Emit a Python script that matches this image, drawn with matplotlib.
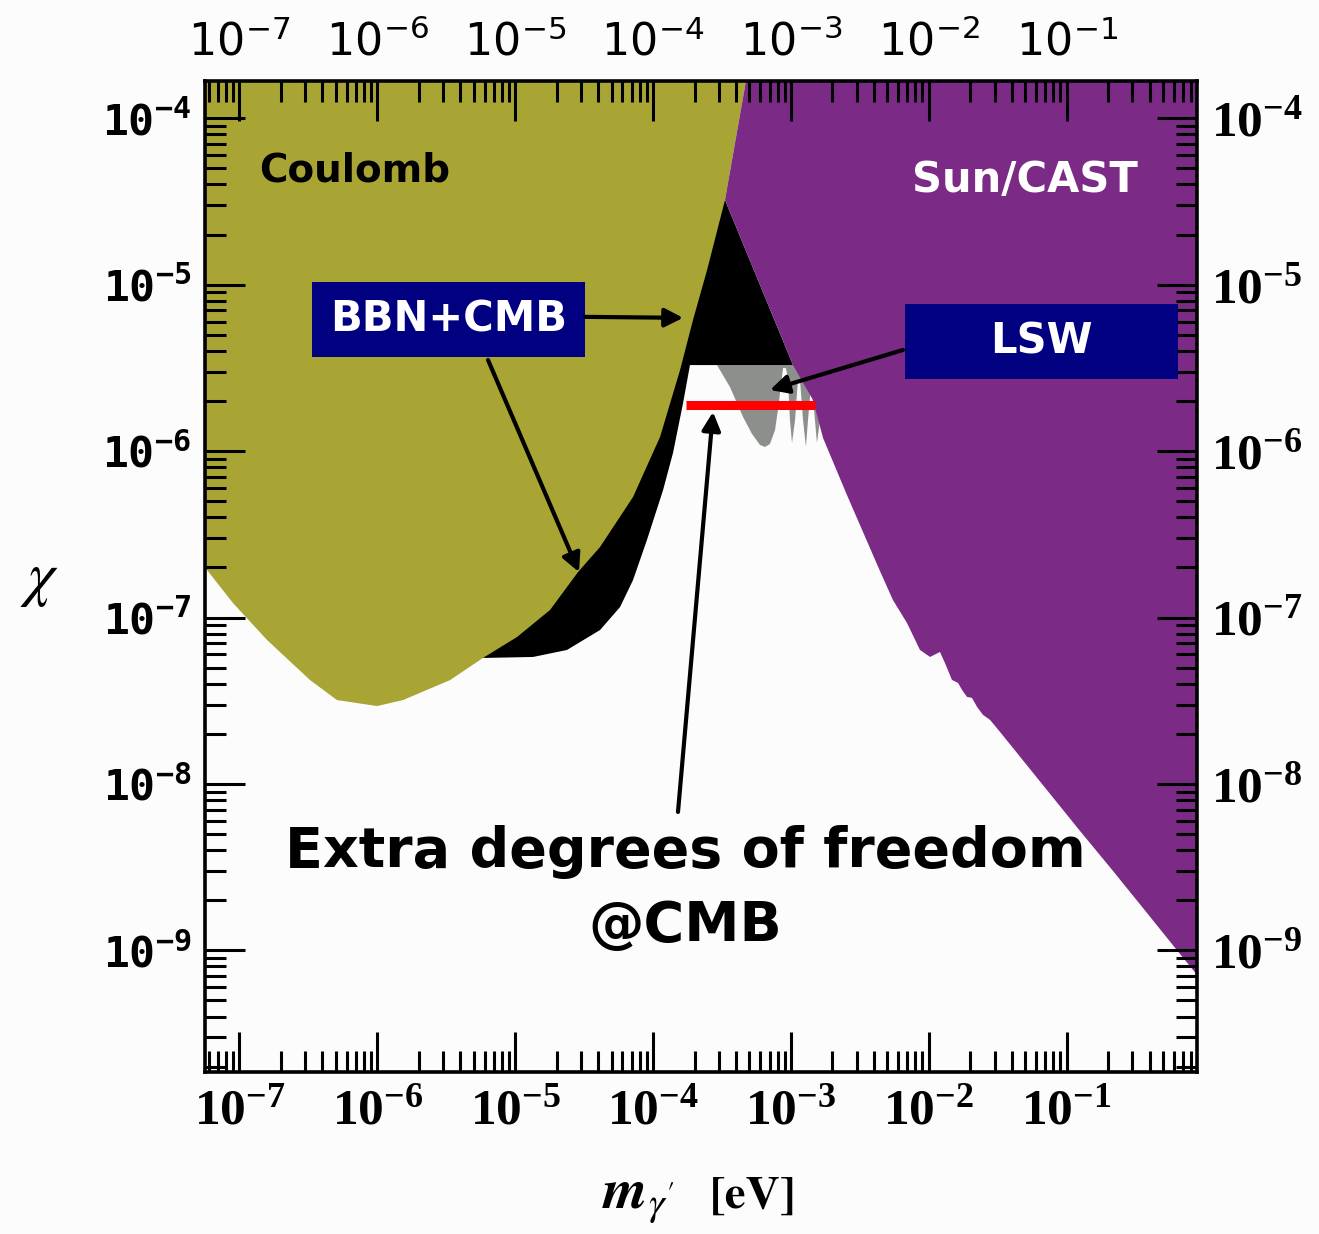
import matplotlib
matplotlib.use("Agg")
import numpy as np
import matplotlib.pyplot as plt
from matplotlib.patches import Rectangle, FancyArrowPatch
from matplotlib.font_manager import FontProperties

plt.rcParams['mathtext.fontset'] = 'stix'

# ---- plot ranges (log10 of dark-photon mass [eV] and of mixing chi) ----
log_m_range = [-7.249, -0.055]
log_chi_range = [-9.731, -3.776]

x_tick_exponents = [-7, -6, -5, -4, -3, -2, -1]
y_tick_exponents = [-9, -8, -7, -6, -5, -4]

# ---- Coulomb-law exclusion boundary ----
coulomb_log_m = [-7.35, -7.234, -7.046, -6.799, -6.487, -6.292, -6.001, -5.813,
                 -5.472, -5.233, -4.986, -4.747, -4.544, -4.384, -4.145, -3.949,
                 -3.804, -3.710, -3.608, -3.478, -3.326, -3.268]
coulomb_log_chi = [-6.59, -6.715, -6.913, -7.135, -7.376, -7.496, -7.532, -7.496,
                   -7.376, -7.243, -7.117, -6.955, -6.727, -6.576, -6.276, -5.915,
                   -5.513, -5.212, -4.912, -4.491, -3.776, -3.50]

# ---- BBN+CMB lower edge, apex and flat bottom of the triangle ----
bbn_log_m = [-5.233, -4.870, -4.624, -4.384, -4.239, -4.145, -4.044, -3.927,
             -3.855, -3.782, -3.732]
bbn_log_chi = [-7.243, -7.237, -7.195, -7.075, -6.937, -6.775, -6.534, -6.234,
               -6.011, -5.711, -5.483]
bbn_apex = (-3.478, -4.491)
bbn_floor_right = (-2.985, -5.483)

# ---- Sun / CAST exclusion boundary ----
sun_log_m = [-3.268, -3.326, -3.478, -2.985, -2.840, -2.767, -2.593, -2.354,
             -2.260, -2.158, -2.064, -1.991, -1.919, -1.883, -1.832, -1.788,
             -1.759, -1.723, -1.687, -1.650, -1.607, -1.556, -1.484, -1.143,
             -0.904, -0.664, -0.418, -0.178, 0.112]
sun_log_chi = [-3.50, -3.776, -4.491, -5.483, -5.693, -5.921, -6.265, -6.721,
               -6.895, -7.033, -7.195, -7.237, -7.207, -7.273, -7.375, -7.393,
               -7.435, -7.477, -7.483, -7.537, -7.585, -7.615, -7.687, -8.037,
               -8.282, -8.523, -8.775, -9.022, -9.316]

# ---- light-shining-through-wall (LSW) exclusion ----
lsw_log_m = [-3.536, -3.442, -3.347, -3.282, -3.224, -3.188, -3.152, -3.115,
             -3.094, -3.072, -3.057, -3.036, -3.021, -3.007, -2.992, -2.970,
             -2.949, -2.934, -2.912, -2.891, -2.876, -2.854, -2.832, -2.811,
             -2.789, -2.774, -2.753, -2.716]
lsw_log_chi = [-5.483, -5.615, -5.795, -5.897, -5.963, -5.975, -5.957, -5.873,
               -5.753, -5.603, -5.501, -5.501, -5.573, -5.813, -5.951, -5.813,
               -5.573, -5.573, -5.813, -5.975, -5.813, -5.603, -5.753, -5.951,
               -5.813, -5.603, -5.500, -5.483]

# ---- extra relativistic degrees of freedom at CMB ----
dof_log_m = [-3.761, -2.825]
dof_log_chi = -5.720

OLIVE = '#a9a535'
PURPLE = '#7b2a86'
NAVY = '#000080'
GRAY = '#8d8f8c'
BG = '#fbfcfb'

fig = plt.figure(figsize=(13.19, 12.34), dpi=100, facecolor=BG)
ax = fig.add_axes([0.15542, 0.13128, 0.75209, 0.80308])
ax.set_facecolor(BG)
ax.set_xscale('log')
ax.set_yscale('log')
ax.set_xlim(10 ** log_m_range[0], 10 ** log_m_range[1])
ax.set_ylim(10 ** log_chi_range[0], 10 ** log_chi_range[1])

top = log_chi_range[1] + 0.3

# LSW (drawn first, partly covered by Sun/CAST)
ax.fill(10 ** np.array(lsw_log_m), 10 ** np.array(lsw_log_chi),
        color=GRAY, lw=0, zorder=1)

# BBN+CMB band (its interior part is covered by the Coulomb region)
bx = list(bbn_log_m) + [bbn_floor_right[0], bbn_apex[0], -4.6]
by = list(bbn_log_chi) + [bbn_floor_right[1], bbn_apex[1], -5.0]
ax.fill(10 ** np.array(bx), 10 ** np.array(by), color='black', lw=0, zorder=1)

# Coulomb
cx = list(coulomb_log_m) + [coulomb_log_m[0]]
cy = list(coulomb_log_chi) + [top]
ax.fill(10 ** np.array(cx), 10 ** np.array(cy), color=OLIVE, lw=0, zorder=1)

# Sun / CAST
sx = list(sun_log_m) + [sun_log_m[-1]]
sy = list(sun_log_chi) + [top]
ax.fill(10 ** np.array(sx), 10 ** np.array(sy), color=PURPLE, lw=0, zorder=1)

# Extra d.o.f. bar
ax.plot(10 ** np.array(dof_log_m), [10 ** dof_log_chi] * 2, color='#ff0000',
        lw=6.5, solid_capstyle='butt', zorder=3)

# ---- ticks ----
def sci_labels(exps):
    return [r'$\mathdefault{10^{%d}}$' % e for e in exps]

ax.set_xticks(10.0 ** np.array(x_tick_exponents), sci_labels(x_tick_exponents))
ax.set_yticks(10.0 ** np.array(y_tick_exponents), sci_labels(y_tick_exponents))
ax.xaxis.set_minor_formatter(matplotlib.ticker.NullFormatter())
ax.yaxis.set_minor_formatter(matplotlib.ticker.NullFormatter())
ax.tick_params(which='both', direction='in', top=True, right=True,
               labeltop=True, labelright=True, width=2.2, color='black')
ax.tick_params(which='major', length=29)
ax.tick_params(which='minor', length=15)
ax.tick_params(axis='x', which='major', pad=12)
ax.tick_params(axis='y', which='major', pad=10)

fp_top = FontProperties(family='DejaVu Sans', size=32)
fp_bottom = FontProperties(family='Liberation Serif', weight='bold', size=37)
fp_left = FontProperties(family='DejaVu Sans Mono', weight='bold', size=31)
fp_right = FontProperties(family='Liberation Serif', weight='bold', size=37)
for t in ax.xaxis.get_major_ticks():
    t.label1.set_fontproperties(fp_bottom)
    t.label2.set_fontproperties(fp_top)
for t in ax.yaxis.get_major_ticks():
    t.label1.set_fontproperties(fp_left)
    t.label2.set_fontproperties(fp_right)

for sp in ax.spines.values():
    sp.set_linewidth(2.6)
    sp.set_zorder(6)

# ---- annotations ----
ann = dict(family='DejaVu Sans', weight='bold', ha='center', va='center',
           transform=ax.transAxes, zorder=7)
ax.text(0.151, 0.910, 'Coulomb', color='black', fontsize=28, **ann)
ax.text(0.827, 0.900, 'Sun/CAST', color='white', fontsize=30, **ann)

for (cxf, cyf, label) in [(0.2455, 0.7593, 'BBN+CMB'), (0.843, 0.737, 'LSW')]:
    ax.add_patch(Rectangle((cxf - 0.1375, cyf - 0.0378), 0.275, 0.0757,
                           transform=ax.transAxes, facecolor=NAVY,
                           edgecolor='none', zorder=6))
    ax.text(cxf, cyf, label, color='white', fontsize=30, **ann)

ax.text(0.484, 0.222, 'Extra degrees of freedom', color='black', fontsize=40, **ann)
ax.text(0.484, 0.147, '@CMB', color='black', fontsize=40, **ann)

arrows = [((0.383, 0.762), (0.482, 0.761)),
          ((0.2853, 0.7185), (0.377, 0.5045)),
          ((0.7036, 0.7286), (0.5696, 0.6882)),
          ((0.4768, 0.2624), (0.5121, 0.666))]
for start, end in arrows:
    ax.add_patch(FancyArrowPatch(start, end, transform=ax.transAxes,
                                 arrowstyle='-|>,head_length=0.55,head_width=0.28',
                                 mutation_scale=20, lw=3, color='black',
                                 shrinkA=0, shrinkB=0, zorder=8))

# ---- axis titles ----
fig.text(0.0303, 0.530, r'$\chi$', fontsize=44, ha='center', va='center')
fig.text(0.5118, 0.021, r'$\boldsymbol{m}_{\gamma^{\prime}}$',
         family='STIXGeneral', fontsize=41, ha='right', va='baseline')
fig.text(0.5383, 0.021, '[eV]', family='STIXGeneral', weight='bold',
         fontsize=34, ha='left', va='baseline')

fig.savefig('out.png', dpi=100, facecolor=BG)
